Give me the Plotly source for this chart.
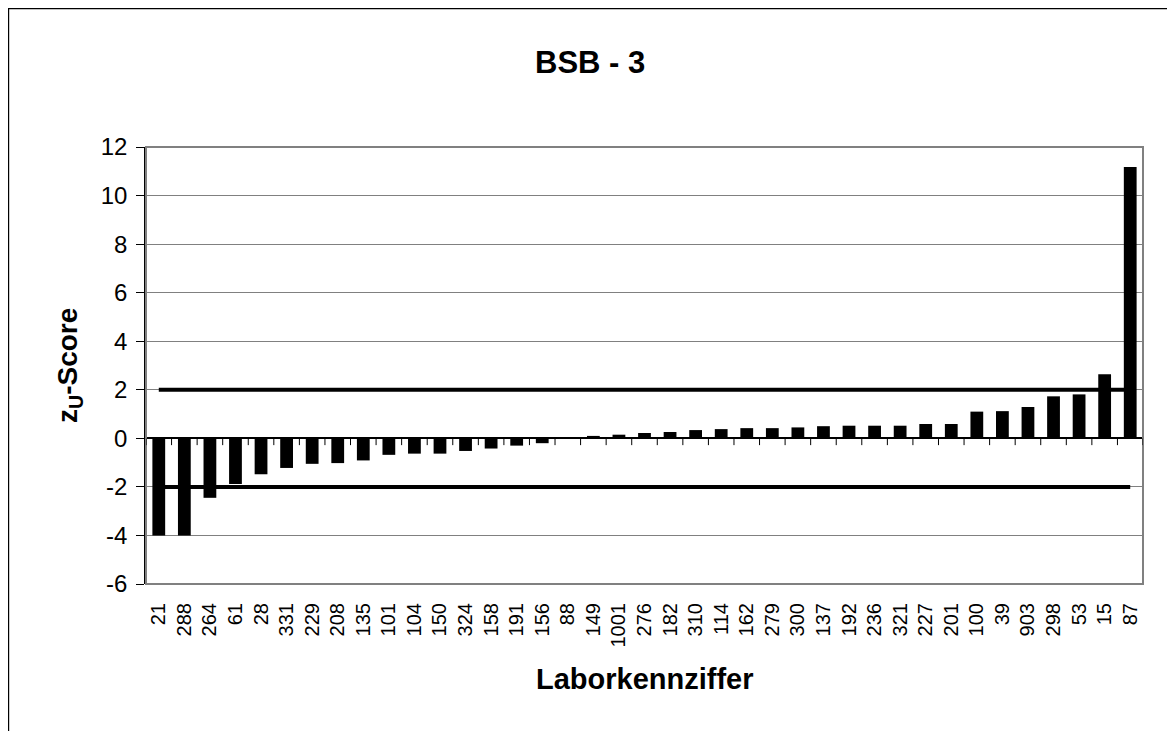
import plotly.graph_objects as go

labs = ["21", "288", "264", "61", "28", "331", "229", "208", "135", "101", "104", "150",
        "324", "158", "191", "156", "88", "149", "1001", "276", "182", "310", "114", "162",
        "279", "300", "137", "192", "236", "321", "227", "201", "100", "39", "903", "298",
        "53", "15", "87"]
zscores = [-4.0, -4.0, -2.45, -1.88, -1.48, -1.22, -1.05, -1.02, -0.91, -0.68, -0.63, -0.63,
           -0.52, -0.42, -0.30, -0.20, 0.0, 0.10, 0.15, 0.22, 0.26, 0.34, 0.38, 0.42,
           0.42, 0.45, 0.50, 0.52, 0.52, 0.52, 0.59, 0.59, 1.10, 1.12, 1.29, 1.73,
           1.81, 2.64, 11.18]
upper_limit = [2] * len(labs)
lower_limit = [-2] * len(labs)
y_ticks = [-6, -4, -2, 0, 2, 4, 6, 8, 10, 12]
y_tick_text = ["-6", "-4", "-2", "0", "2", "4", "6", "8", "10", "12"]

# page body has an 8px margin, so the figure is laid out in coordinates shifted by 8px
OFF = 8
W, H = 1175 - OFF, 731 - OFF
L, R, T, B = 146 - OFF, 1143 - OFF, 147 - OFF, 584 - OFF
FONT = "Liberation Sans, Arial, sans-serif"

fig = go.Figure()
fig.add_trace(go.Bar(x=labs, y=zscores, marker=dict(color="black", line=dict(width=0)),
                     width=0.5, showlegend=False))
fig.add_trace(go.Scatter(x=labs, y=upper_limit, mode="lines",
                         line=dict(color="black", width=4), showlegend=False))
fig.add_trace(go.Scatter(x=labs, y=lower_limit, mode="lines",
                         line=dict(color="black", width=4), showlegend=False))


def px(x):
    return (x - OFF - L) / (R - L)


def py(y):
    return (B - (y - OFF)) / (B - T)


shapes = []
# outer chart border
shapes.append(dict(type="rect", xref="paper", yref="paper",
                   x0=px(8.6), x1=px(1174), y0=py(745), y1=py(8.6),
                   line=dict(color="black", width=1.2), fillcolor="rgba(0,0,0,0)", layer="below"))
# plot area border (gray)
shapes.append(dict(type="rect", xref="paper", yref="paper", x0=0, x1=1, y0=0, y1=1,
                   line=dict(color="#808080", width=2), layer="above"))
# category tick marks on the zero line
n = len(labs)
for i in range(n + 1):
    shapes.append(dict(type="line", xref="x", yref="y", x0=i - 0.5, x1=i - 0.5,
                       y0=0, y1=-0.28, line=dict(color="black", width=1), layer="above"))

fig.update_layout(
    width=W, height=H,
    margin=dict(l=L, r=W - R, t=T, b=H - B),
    paper_bgcolor="white", plot_bgcolor="white",
    font=dict(family=FONT, color="black"),
    bargap=0.5,
    shapes=shapes,
    annotations=[
        dict(text="<b>BSB - 3</b>", xref="paper", yref="paper", x=px(590), y=py(62),
             showarrow=False, font=dict(size=31, family=FONT), xanchor="center", yanchor="middle"),
        dict(text="<b>Laborkennziffer</b>", xref="paper", yref="paper", x=px(645), y=py(679),
             showarrow=False, font=dict(size=29, family=FONT), xanchor="center", yanchor="middle"),
        dict(text="<b>z<sub>U</sub>-Score</b>", xref="paper", yref="paper", x=px(69), y=py(366),
             showarrow=False, textangle=-90, font=dict(size=28, family=FONT),
             xanchor="center", yanchor="middle"),
    ],
)
fig.update_xaxes(type="category", categoryorder="array", categoryarray=labs,
                 range=[-0.5, n - 0.5], showgrid=False, zeroline=False, showline=False,
                 ticks="outside", ticklen=10, tickcolor="rgba(0,0,0,0)",
                 tickangle=-90, tickfont=dict(size=20, family=FONT))
fig.update_yaxes(range=[-6, 12], tickvals=y_ticks, ticktext=y_tick_text,
                 showgrid=True, gridcolor="#808080", gridwidth=1,
                 zeroline=True, zerolinecolor="black", zerolinewidth=1.5,
                 showline=True, linecolor="black", linewidth=1.5, mirror=False,
                 ticks="outside", ticklen=8, tickcolor="black", tickwidth=1,
                 ticklabelstandoff=4,
                 tickfont=dict(size=24, family=FONT))

fig.write_html("out.html")
